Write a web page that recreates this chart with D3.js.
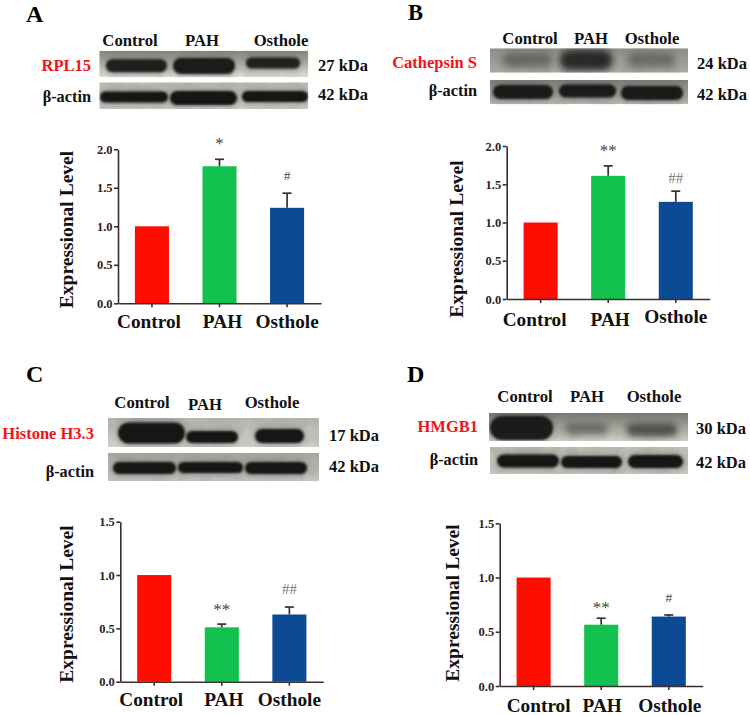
<!DOCTYPE html>
<html>
<head>
<meta charset="utf-8">
<script src="https://cdnjs.cloudflare.com/ajax/libs/d3/7.8.5/d3.min.js"></script>
<style>
body { margin: 0; background: #fff; }
text { font-family: "Liberation Serif", serif; font-weight: bold; }
</style>
</head>
<body>
<div id="chart"></div>
<script>
const categories = ["Control", "PAH", "Osthole"];

// bar heights and the upper end of the error bars
const valuesA = [1.0, 1.78, 1.24];
const errTopA = [null, 1.87, 1.43];
const valuesB = [1.0, 1.61, 1.27];
const errTopB = [null, 1.74, 1.41];
const valuesC = [1.0, 0.51, 0.63];
const errTopC = [null, 0.54, 0.70];
const valuesD = [1.0, 0.565, 0.64];
const errTopD = [null, 0.625, 0.655];

const signifA = ["", "*", "#"];
const signifB = ["", "**", "##"];
const signifC = ["", "**", "##"];
const signifD = ["", "**", "#"];

const ticksAB = [0, 0.5, 1.0, 1.5, 2.0];
const ticksCD = [0, 0.5, 1.0, 1.5];

const barColors = ["#ff0d00", "#13c14e", "#0d4a94"];
const axisColor = "#3a2f2c";

// layout of each panel, in page pixels
const panels = [
    {
        letter: "A", letterPos: [26, 22], letterSize: 24,
        values: valuesA, errTop: errTopA, signif: signifA, ticks: ticksAB, yMax: 2,
        x0: 118, x1: 321, yTop: 149.3, yBottom: 303.3,
        yLabel: [72.7, 229.5],
        catDx: [-3, 3, 0], catY: [328, 328, 328],
        signifY: [0, 141, 175],
        lanes: [[130, 46], [202, 46], [281, 46]],
        protein: "RPL15", proteinPos: [91, 71], actinPos: [91, 102],
        kda: ["27 kDa", "42 kDa"], kdaPos: [[318, 71], [318, 100]],
        blots: [
            { x: 99.3, w: 209, y: 50.7, h: 26.6, top: "#85857f", bottom: "#e0e0da",
              bands: [[106, 167, 65.7, 13, 0.92], [173, 235, 66, 16, 0.95], [246, 300, 63, 11, 0.9]] },
            { x: 99.3, w: 209, y: 82.3, h: 26.7, top: "#bdbcb5", bottom: "#cfcec8",
              bands: [[100, 168, 97, 11, 1], [170, 237, 98, 14, 1], [242, 308, 96.5, 11, 1]] }
        ]
    },
    {
        letter: "B", letterPos: [408, 20], letterSize: 22.5,
        values: valuesB, errTop: errTopB, signif: signifB, ticks: ticksAB, yMax: 2,
        x0: 506.7, x1: 709.7, yTop: 146, yBottom: 299,
        yLabel: [462.7, 239],
        catDx: [-6, 2, 0], catY: [326, 326, 323],
        signifY: [0, 148, 178],
        lanes: [[530, 44], [591, 44], [652, 44]],
        protein: "Cathepsin S", proteinPos: [477, 68], actinPos: [477, 96],
        kda: ["24 kDa", "42 kDa"], kdaPos: [[697, 69], [697, 100]],
        blots: [
            { x: 490, w: 198, y: 48.3, h: 24.4, top: "#8f8f89", bottom: "#a9a9a3",
              bands: [[503, 552, 60, 14, 0.3], [560, 612, 60, 19, 0.8], [627, 675, 60, 14, 0.27]] },
            { x: 490, w: 198, y: 80, h: 24.3, top: "#80807a", bottom: "#bcbcb6",
              bands: [[493, 553, 92, 14, 0.95], [559, 616, 91, 13, 0.95], [621, 683, 93, 14, 0.95]] }
        ]
    },
    {
        letter: "C", letterPos: [26, 382], letterSize: 24,
        values: valuesC, errTop: errTopC, signif: signifC, ticks: ticksCD, yMax: 1.5,
        x0: 120.3, x1: 323.3, yTop: 521.7, yBottom: 681.7,
        yLabel: [72.7, 604],
        catDx: [-3, 2, 0], catY: [706, 706, 706],
        signifY: [0, 607, 589],
        lanes: [[142, 408], [205, 410], [272, 408]],
        protein: "Histone H3.3", proteinPos: [94, 439], actinPos: [94, 477],
        kda: ["17 kDa", "42 kDa"], kdaPos: [[329, 441], [329, 472]],
        blots: [
            { x: 108, w: 211, y: 418, h: 29, top: "#b5b5ae", bottom: "#d2d2cc",
              bands: [[118, 185, 433, 21, 1], [186, 238, 437, 12, 1], [255, 304, 436, 14, 1]] },
            { x: 108, w: 211, y: 453, h: 28, top: "#a8a8a2", bottom: "#c8c8c2",
              bands: [[113, 176, 468, 12, 1], [178, 243, 467.5, 11, 1], [245, 307, 468, 12, 1]] }
        ]
    },
    {
        letter: "D", letterPos: [407, 382], letterSize: 24,
        values: valuesD, errTop: errTopD, signif: signifD, ticks: ticksCD, yMax: 1.5,
        x0: 499.7, x1: 702.7, yTop: 523.3, yBottom: 686,
        yLabel: [459, 603],
        catDx: [5, 1, 1], catY: [712, 712, 712],
        signifY: [0, 605, 597],
        lanes: [[525, 402], [587, 402], [654, 402]],
        protein: "HMGB1", proteinPos: [478, 432], actinPos: [478, 465],
        kda: ["30 kDa", "42 kDa"], kdaPos: [[696, 434], [696, 468]],
        blots: [
            { x: 489, w: 199, y: 413, h: 28, top: "#77776f", bottom: "#cfcfc8",
              bands: [[490, 553, 428, 24, 0.95], [565, 607, 429, 10, 0.35], [627, 677, 430, 12, 0.55]] },
            { x: 490, w: 198, y: 447, h: 27, top: "#c0c0b9", bottom: "#c8c8c1",
              bands: [[497, 559, 461, 13, 1], [561, 622, 462, 12, 1], [628, 683, 461.5, 13, 1]] }
        ]
    }
];

const svg = d3.select("#chart").append("svg")
    .attr("width", 750)
    .attr("height", 715);

const defs = svg.append("defs");
defs.append("filter").attr("id", "bandBlur")
    .attr("x", "-20%").attr("y", "-60%").attr("width", "140%").attr("height", "220%")
    .append("feGaussianBlur").attr("stdDeviation", 1.2);
defs.append("filter").attr("id", "softBlur")
    .attr("x", "-30%").attr("y", "-100%").attr("width", "160%").attr("height", "300%")
    .append("feGaussianBlur").attr("stdDeviation", 3.2);
defs.append("filter").attr("id", "haloBlur")
    .attr("x", "-30%").attr("y", "-100%").attr("width", "160%").attr("height", "300%")
    .append("feGaussianBlur").attr("stdDeviation", 4);

// film grain over the blot background
const grain = defs.append("filter").attr("id", "grain")
    .attr("x", 0).attr("y", 0).attr("width", "100%").attr("height", "100%");
grain.append("feTurbulence").attr("type", "fractalNoise").attr("baseFrequency", 0.09).attr("numOctaves", 2).attr("seed", 4);
grain.append("feColorMatrix").attr("type", "matrix")
    .attr("values", "0 0 0 0 0.2  0 0 0 0 0.2  0 0 0 0 0.18  0 0 0 1.1 -0.42");

const drawBlot = (blot, id) => {
    const grad = defs.append("linearGradient").attr("id", "grad" + id)
        .attr("x1", 0).attr("x2", 0).attr("y1", 0).attr("y2", 1);
    grad.append("stop").attr("offset", "0%").attr("stop-color", blot.top);
    grad.append("stop").attr("offset", "100%").attr("stop-color", blot.bottom);
    defs.append("clipPath").attr("id", "clip" + id)
        .append("rect")
        .attr("x", blot.x).attr("y", blot.y)
        .attr("width", blot.w).attr("height", blot.h);

    const g = svg.append("g").attr("clip-path", "url(#clip" + id + ")");
    g.append("rect")
        .attr("x", blot.x).attr("y", blot.y)
        .attr("width", blot.w).attr("height", blot.h)
        .attr("fill", "url(#grad" + id + ")");
    g.append("rect")
        .attr("x", blot.x).attr("y", blot.y)
        .attr("width", blot.w).attr("height", blot.h)
        .attr("opacity", 0.3)
        .attr("filter", "url(#grain)");

    // soft halo first, then the dark core of the band
    g.selectAll("rect.halo").data(blot.bands).enter().append("rect")
        .attr("class", "halo")
        .attr("x", d => d[0]).attr("width", d => d[1] - d[0])
        .attr("y", d => d[2] - d[3] / 2 - 1).attr("height", d => d[3] + 2)
        .attr("rx", d => d[3] / 2)
        .attr("fill", "#33332f")
        .attr("opacity", d => d[4] * 0.4)
        .attr("filter", "url(#haloBlur)");
    g.selectAll("rect.band").data(blot.bands).enter().append("rect")
        .attr("class", "band")
        .attr("x", d => d[0]).attr("width", d => d[1] - d[0])
        .attr("y", d => d[2] - d[3] / 2).attr("height", d => d[3])
        .attr("rx", d => d[3] / 2)
        .attr("fill", "#151513")
        .attr("opacity", d => d[4])
        .attr("filter", d => d[4] < 0.9 ? "url(#softBlur)" : "url(#bandBlur)");
};

const label = (str, pos, size, anchor, color) => svg.append("text")
    .attr("x", pos[0])
    .attr("y", pos[1])
    .attr("font-size", size)
    .attr("text-anchor", anchor)
    .attr("fill", color || "#111")
    .text(str);

panels.forEach((p, n) => {
    label(p.letter, p.letterPos, p.letterSize, "start", "#000");

    // western blot strips
    p.blots.forEach((b, i) => drawBlot(b, n + "_" + i));
    categories.forEach((c, i) => label(c, p.lanes[i], 16.7, "middle"));
    label(p.protein, p.proteinPos, 16.5, "end", "#f0141a");
    label("β-actin", p.actinPos, 16.3, "end");
    p.kda.forEach((k, i) => label(k, p.kdaPos[i], 16.5, "start"));

    // bar chart
    const x = d3.scaleBand()
        .domain(categories)
        .range([p.x0, p.x1])
        .paddingInner(0.496)
        .paddingOuter(0.25);
    const y = d3.scaleLinear()
        .domain([0, p.yMax])
        .range([p.yBottom, p.yTop]);

    const rows = categories.map((c, i) => ({
        cat: c, value: p.values[i], top: p.errTop[i], mark: p.signif[i],
        color: barColors[i], markY: p.signifY[i]
    }));

    const errs = rows.filter(d => d.top !== null);
    svg.append("g").selectAll("line").data(errs).enter().append("line")
        .attr("x1", d => x(d.cat) + x.bandwidth() / 2)
        .attr("x2", d => x(d.cat) + x.bandwidth() / 2)
        .attr("y1", d => y(d.value))
        .attr("y2", d => y(d.top))
        .attr("stroke", axisColor)
        .attr("stroke-width", 1.7);
    svg.append("g").selectAll("line").data(errs).enter().append("line")
        .attr("x1", d => x(d.cat) + x.bandwidth() / 2 - 4.5)
        .attr("x2", d => x(d.cat) + x.bandwidth() / 2 + 4.5)
        .attr("y1", d => y(d.top))
        .attr("y2", d => y(d.top))
        .attr("stroke", axisColor)
        .attr("stroke-width", 1.7);

    svg.append("g").selectAll("rect").data(rows).enter().append("rect")
        .attr("x", d => x(d.cat))
        .attr("y", d => y(d.value))
        .attr("width", x.bandwidth())
        .attr("height", d => y(0) - y(d.value))
        .attr("fill", d => d.color);

    const yAxis = svg.append("g")
        .attr("transform", "translate(" + p.x0 + ",0)")
        .call(d3.axisLeft(y).tickValues(p.ticks).tickFormat(d3.format(".1f")).tickSize(4).tickSizeOuter(0).tickPadding(1.5));
    yAxis.selectAll("text").attr("font-size", 12.5).attr("fill", "#2b2422")
        .style("font-family", '"Liberation Serif", serif').style("font-weight", "bold");

    const xAxis = svg.append("g")
        .attr("transform", "translate(0," + p.yBottom + ")")
        .call(d3.axisBottom(x).tickSize(4).tickSizeOuter(0));
    xAxis.selectAll("text")
        .attr("font-size", 19.3)
        .attr("fill", "#111")
        .attr("dy", 0)
        .attr("dx", (d, i) => p.catDx[i])
        .attr("y", (d, i) => p.catY[i] - p.yBottom)
        .style("font-family", '"Liberation Serif", serif').style("font-weight", "bold");

    [yAxis, xAxis].forEach(a => {
        a.selectAll("path, line").attr("stroke", axisColor).attr("stroke-width", 1.6);
    });

    svg.append("text")
        .attr("transform", "translate(" + p.yLabel[0] + "," + p.yLabel[1] + ") rotate(-90)")
        .attr("text-anchor", "middle")
        .attr("font-size", 19.5)
        .attr("fill", "#111")
        .text("Expressional Level");

    // significance marks above the bars
    svg.append("g").selectAll("text").data(rows.filter(d => d.mark)).enter().append("text")
        .attr("x", d => x(d.cat) + x.bandwidth() / 2)
        .attr("y", d => d.markY)
        .attr("dy", d => d.mark[0] === "*" ? "0.47em" : "0.35em")
        .attr("text-anchor", "middle")
        .attr("font-size", d => d.mark[0] === "*" ? 17 : (d.mark === "##" ? 15 : 13.5))
        .attr("fill", d => d.mark === "##" ? "#777" : "#444")
        .style("font-weight", "normal")
        .text(d => d.mark);
});
</script>
</body>
</html>
